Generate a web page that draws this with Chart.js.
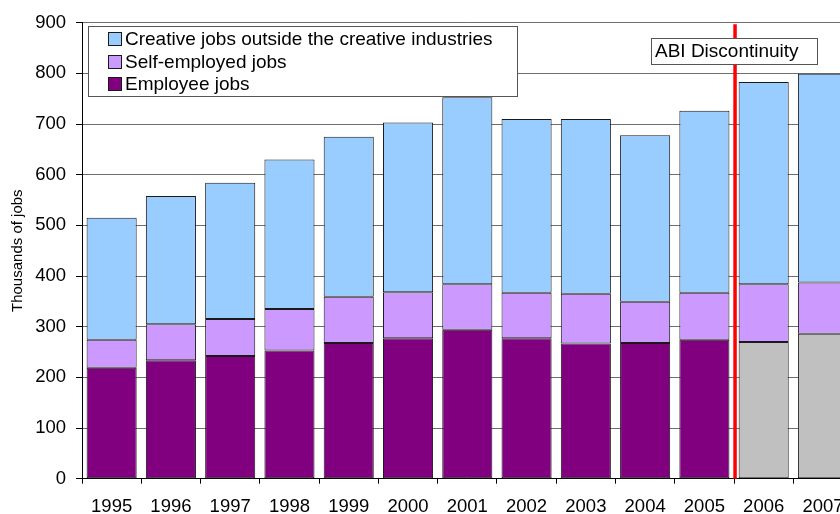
<!DOCTYPE html>
<html>
<head>
<meta charset="utf-8">
<script src="https://cdn.jsdelivr.net/npm/chart.js@4/dist/chart.umd.min.js"></script>
<style>
  html, body { margin: 0; padding: 0; background: #fff; overflow: hidden; }
  #wrap { width: 840px; height: 514px; overflow: hidden; position: relative; }
  canvas { display: block; }
</style>
</head>
<body>
<div id="wrap"><canvas id="c" width="870" height="514" style="width:870px;height:514px"></canvas></div>
<script>
// Creative employment, thousands of jobs
const years = ['1995','1996','1997','1998','1999','2000','2001','2002','2003','2004','2005','2006','2007'];
const employeeJobs        = [219, 234, 242, 253, 268, 277, 294, 277, 267, 268, 274, 270, 286];
const selfEmployedJobs    = [ 55,  71,  73,  82,  91,  91,  90,  90,  98,  81,  93, 114, 101];
const creativeOutsideJobs = [241, 253, 269, 295, 316, 335, 369, 343, 345, 329, 359, 399, 412];
const yTicks = [0, 100, 200, 300, 400, 500, 600, 700, 800, 900];
const lastYearBeforeBreak = '2005';
const breakLabel = 'ABI Discontinuity';

const FONT = "'Liberation Sans', Arial, sans-serif";
const PURPLE = '#800080', LILAC = '#CC99FF', SKY = '#99CCFF', GREY = '#C0C0C0';

// Employee figures after the ABI break are shown in grey
const employeeColors = years.map(y => (+y > +lastYearBeforeBreak ? GREY : PURPLE));

const barCommon = {
  borderColor: '#1a1a1a',
  borderWidth: 1,
  borderSkipped: false,
  categoryPercentage: 1.0,
  barPercentage: 0.845
};

// Legend box drawn inside the plot area, top series first
const insideLegend = {
  id: 'insideLegend',
  afterDraw(chart) {
    const ctx = chart.ctx;
    const x0 = 88, y0 = 26, w = 429, h = 70;
    ctx.save();
    ctx.fillStyle = '#fff';
    ctx.fillRect(x0, y0, w, h);
    ctx.strokeStyle = '#555';
    ctx.lineWidth = 1;
    ctx.strokeRect(x0 + 0.5, y0 + 0.5, w, h);
    ctx.font = '19px ' + FONT;
    ctx.textBaseline = 'middle';
    ctx.fillStyle = '#000';
    const ds = chart.data.datasets.slice().reverse();
    ds.forEach((d, i) => {
      const cy = 39 + i * 22.5;
      const col = Array.isArray(d.backgroundColor) ? d.backgroundColor[0] : d.backgroundColor;
      ctx.fillStyle = col;
      ctx.fillRect(108, Math.round(cy - 7), 14, 14);
      ctx.strokeStyle = '#1a1a1a';
      ctx.strokeRect(108.5, Math.round(cy - 7) + 0.5, 13, 13);
      ctx.fillStyle = '#000';
      ctx.fillText(d.label, 125, cy + 1);
    });
    ctx.restore();
  }
};

// Vertical marker between the last pre-break year and the first post-break year
const breakMarker = {
  id: 'breakMarker',
  afterDatasetsDraw(chart) {
    const xs = chart.scales.x, ys = chart.scales.y, ctx = chart.ctx;
    const i = years.indexOf(lastYearBeforeBreak);
    const x = (xs.getPixelForValue(i) + xs.getPixelForValue(i + 1)) / 2 + 1;
    ctx.save();
    ctx.strokeStyle = '#FF0000';
    ctx.lineWidth = 3.5;
    ctx.beginPath();
    ctx.moveTo(x, ys.getPixelForValue(897));
    ctx.lineTo(x, ys.getPixelForValue(0));
    ctx.stroke();
    // label box
    const bx = 651, by = 38, bw = 166, bh = 26;
    ctx.fillStyle = '#fff';
    ctx.fillRect(bx, by, bw, bh);
    ctx.strokeStyle = '#555';
    ctx.lineWidth = 1;
    ctx.strokeRect(bx + 0.5, by + 0.5, bw, bh);
    ctx.fillStyle = '#000';
    ctx.font = '19px ' + FONT;
    ctx.textBaseline = 'middle';
    ctx.fillText(breakLabel, bx + 4, by + bh / 2 + 1);
    ctx.restore();
  }
};

new Chart(document.getElementById('c'), {
  type: 'bar',
  data: {
    labels: years,
    datasets: [
      Object.assign({ label: 'Employee jobs', data: employeeJobs, backgroundColor: employeeColors }, barCommon),
      Object.assign({ label: 'Self-employed jobs', data: selfEmployedJobs, backgroundColor: LILAC }, barCommon),
      Object.assign({ label: 'Creative jobs outside the creative industries', data: creativeOutsideJobs, backgroundColor: SKY }, barCommon)
    ]
  },
  options: {
    responsive: false,
    animation: false,
    layout: { padding: { top: 22.7, right: 17.4, left: 0, bottom: 0 } },
    plugins: { legend: { display: false }, tooltip: { enabled: false } },
    scales: {
      x: {
        stacked: true,
        grid: { offset: true, drawOnChartArea: false, drawTicks: true, tickLength: 5, color: '#000' },
        border: { color: '#000', width: 1 },
        ticks: { color: '#000', font: { family: FONT, size: 18.5 }, padding: 12, maxRotation: 0, autoSkip: false },
        afterFit(s) { s.height = 514 - 478.7; }
      },
      y: {
        stacked: true,
        min: 0,
        max: 900,
        afterBuildTicks(s) { s.ticks = yTicks.map(v => ({ value: v })); },
        grid: { color: '#6e6e6e', tickColor: '#000', tickLength: 6, lineWidth: 1 },
        border: { color: '#000', width: 1 },
        ticks: { color: '#000', font: { family: FONT, size: 18.5 }, padding: 10 },
        title: { display: true, text: 'Thousands of jobs', color: '#000', font: { family: FONT, size: 15 }, padding: { top: 9, bottom: 0 } },
        afterFit(s) { s.width = 82; }
      }
    }
  },
  plugins: [breakMarker, insideLegend]
});
</script>
</body>
</html>
